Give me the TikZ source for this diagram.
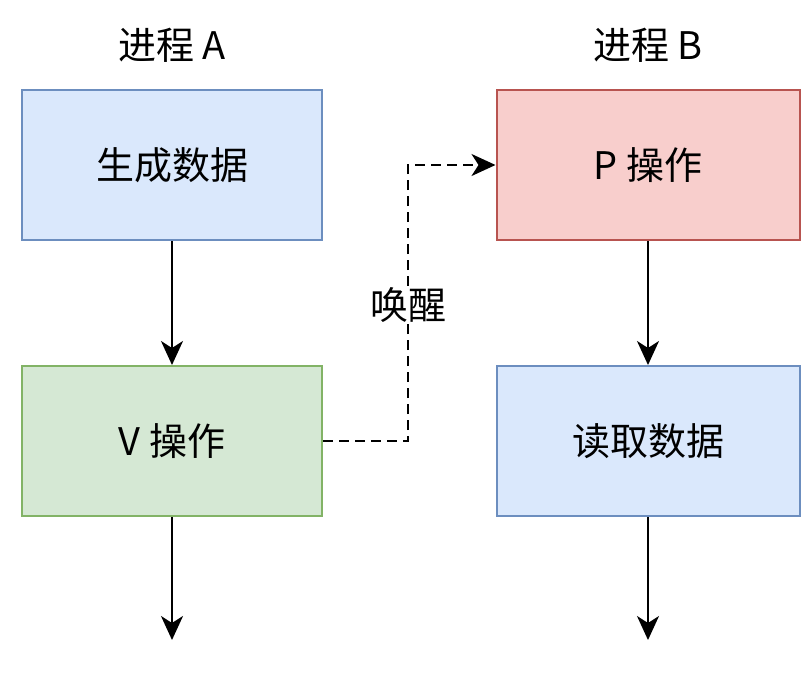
\documentclass[tikz,border=0pt]{standalone}
\usepackage{fontspec}
\setmainfont{Noto Sans CJK SC}
\usetikzlibrary{arrows.meta,positioning}
\definecolor{procblue}{HTML}{DAE8FC}
\definecolor{procbluedraw}{HTML}{6C8EBF}
\definecolor{procgreen}{HTML}{D5E8D4}
\definecolor{procgreendraw}{HTML}{82B366}
\definecolor{procred}{HTML}{F8CECC}
\definecolor{procreddraw}{HTML}{B85450}

\begin{document}
\begin{tikzpicture}[x=1pt,y=-1pt,>={Stealth[length=24pt,width=22pt,inset=7pt]},
  font=\fontsize{38}{44}\selectfont,
  box/.style={rectangle,line width=2pt,minimum width=300pt,minimum height=150pt,inner sep=0pt},
  flow/.style={->,line width=2pt}]
 \useasboundingbox (0,0) rectangle (811,672);
 \node (titleA) at (172,45) {进程 A};
 \node (titleB) at (648,45) {进程 B};
 \node[box,fill=procblue,draw=procbluedraw] (gen) at (172,165) {生成数据};
 \node[box,fill=procgreen,draw=procgreendraw] (vop) at (172,441) {V 操作};
 \node[box,minimum width=303pt,fill=procred,draw=procreddraw] (pop) at (648,165) {P 操作};
 \node[box,minimum width=303pt,fill=procblue,draw=procbluedraw] (read) at (648,441) {读取数据};
 \coordinate (endA) at (172,640);
 \coordinate (endB) at (648,640);
 \coordinate (wakeL) at (408,441);
 \coordinate (wakeU) at (408,165);
 \draw[flow] (gen) -- (vop);
 \draw[flow] (vop) -- (endA);
 \draw[flow] (pop) -- (read);
 \draw[flow] (read) -- (endB);
 \draw[flow,dash pattern=on 10pt off 6pt] (vop.east) -- (wakeL) -- (wakeU) -- (pop.west);
 \node[fill=white,inner sep=1pt] (wake) at (408,305) {唤醒};
\end{tikzpicture}
\end{document}
